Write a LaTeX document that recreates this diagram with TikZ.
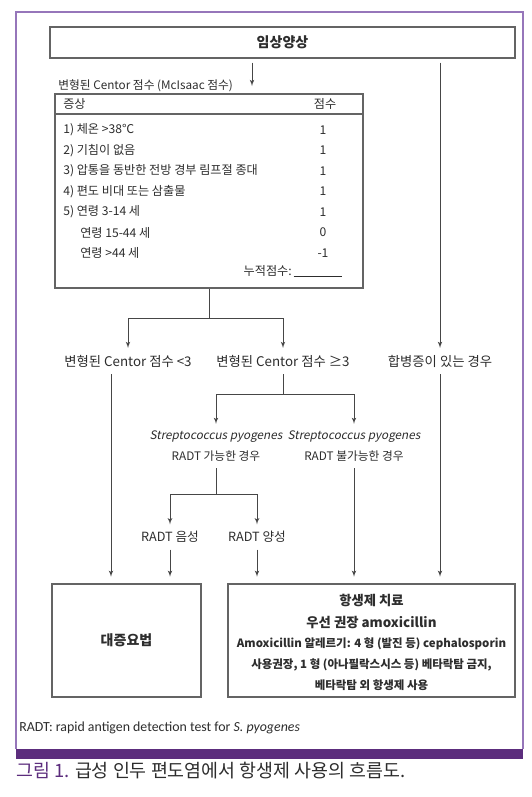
\documentclass[tikz,border=0pt]{standalone}
\usepackage{fontspec}
\usepackage{xcolor}
\setmainfont{Noto Sans CJK KR}[AutoFakeSlant=0.2]
\newfontfamily\notefont{Carlito}
\usetikzlibrary{arrows,positioning,calc}

\definecolor{frameviolet}{RGB}{150,118,186}
\definecolor{barviolet}{RGB}{92,45,125}
\definecolor{boxgray}{RGB}{100,100,100}
\definecolor{linegray}{RGB}{70,70,70}
\definecolor{txtgray}{RGB}{45,45,45}

\begin{document}
\begin{tikzpicture}[x=0.75pt, y=-0.75pt, >=latex']
        \tikzstyle{box} = [rectangle, draw=boxgray, line width=0.9pt, inner sep=0pt, text=txtgray]
        \tikzstyle{lbl} = [text=txtgray, font=\fontsize{10}{12}\selectfont, inner sep=2pt]
        \tikzstyle{cond} = [text=txtgray, font=\fontsize{8.8}{15.5}\selectfont, align=center, inner sep=2pt]
        \tikzstyle{row} = [text=txtgray, font=\fontsize{9.1}{10}\selectfont, inner sep=0pt]
        \tikzstyle{rx} = [text=txtgray, inner sep=0pt]
        \tikzstyle{line} = [draw=linegray, line width=0.6pt]
        \tikzstyle{flow} = [line, -latex', shorten <=3pt, shorten >=3pt]

        % Page and frame
        \useasboundingbox (0,0) rectangle (532,797);
        \fill[white] (0,0) rectangle (532,797);
        \draw[frameviolet, line width=1pt] (16,749) -- (16,12) -- (523,12) -- (523,749);
        \fill[barviolet] (16,749) rectangle (523,759);

        % Top box and score table
        \node [box, minimum width=348.75pt, minimum height=23.25pt, font=\bfseries\fontsize{10.5}{12}\selectfont] (clin) at (282.5,42.5) {임상양상};
        \node [row, anchor=west, font=\fontsize{8.8}{10}\selectfont] (mc) at (58,85.5) {변형된 Centor 점수 (McIsaac 점수)};
        \coordinate (mcx) at (252,90);
        \node [box, minimum width=231pt, minimum height=145.5pt] (score) at (209,191) {};
        \coordinate (hd) at (0,114);
        \draw [draw=boxgray, line width=0.9pt] (score.west |- hd) -- (score.east |- hd);
        \node [row, anchor=west] (symh) at (63,104) {증상};
        \node [row] (pth) at (325,104) {점수};
        \foreach \sx/\sym/\pt [count=\i] in {63/1) 체온 >38℃/1, 63/2) 기침이 없음/1,
            63/3) 압통을 동반한 전방 경부 림프절 종대/1, 63/4) 편도 비대 또는 삼출물/1,
            63/5) 연령 3-14 세/1, 80/연령 15-44 세/0, 80/연령 >44 세/-1}
        {
            \node [row, anchor=west] (sym\i) at (\sx,109.5+20.5*\i) {\sym};
            \node [row] (pt\i) at (323,109.5+20.5*\i) {\pt};
        }
        \node [row, anchor=east] (sum) at (342,271) {누적점수:\,\rule[-0.5pt]{36pt}{0.5pt}};

        % Branch labels
        \node [lbl] (lt3) at (128,361) {변형된 Centor 점수 <3};
        \node [lbl] (ge3) at (283,361) {변형된 Centor 점수 ≥3};
        \node [lbl] (cmp) at (440,361) {합병증이 있는 경우};
        \node [cond] (rok) at (216,446) {\textit{Streptococcus pyogenes}\\RADT 가능한 경우};
        \node [cond] (rno) at (354,446) {\textit{Streptococcus pyogenes}\\RADT 불가능한 경우};
        \node [lbl, font=\fontsize{9.5}{12}\selectfont] (neg) at (170,537) {RADT 음성};
        \node [lbl, font=\fontsize{9.5}{12}\selectfont] (pos) at (257,537) {RADT 양성};

        % Outcome boxes
        \node [box, minimum width=111.75pt, minimum height=84.75pt, font=\bfseries\fontsize{10.5}{12}\selectfont] (sym) at (126.5,640.5) {대증요법};
        \node [box, minimum width=215.25pt, minimum height=84.75pt] (abx) at (371.5,640.5) {};
        \node [rx, font=\bfseries\fontsize{10}{12}\selectfont] (abx1) at (371.5,600) {항생제 치료};
        \node [rx, font=\bfseries\fontsize{10}{12}\selectfont] (abx2) at (371.5,623) {우선 권장 amoxicillin};
        \node [rx, font=\bfseries\fontsize{8.6}{10}\selectfont] (abx3) at (371.5,644) {Amoxicillin 알레르기: 4 형 (발진 등) cephalosporin};
        \node [rx, font=\bfseries\fontsize{8.6}{10}\selectfont] (abx4) at (371.5,664.5) {사용권장, 1 형 (아나필락스시스 등) 베타락탐 금지,};
        \node [rx, font=\bfseries\fontsize{8.6}{10}\selectfont] (abx5) at (371.5,685) {베타락탐 외 항생제 사용};

        % Paths
        \path [flow] (clin.south -| mcx) -- (mcx);
        \path [flow] (clin.south -| cmp) -- (cmp);
        \path [line] (score.south) -- ++(0,30) coordinate (sj);
        \path [flow, shorten <=0pt] (sj) -| (lt3);
        \path [flow, shorten <=0pt] (sj) -| (ge3);
        \path [line, shorten <=3pt] (ge3.south) -- ++(0,24) coordinate (gj);
        \path [flow, shorten <=0pt] (gj) -| (rok);
        \path [flow, shorten <=0pt] (gj) -| (rno);
        \path [line, shorten <=3pt] (rok.south) -- ++(0,30) coordinate (rj);
        \path [flow, shorten <=0pt] (rj) -| (neg);
        \path [flow, shorten <=0pt] (rj) -| (pos);
        \path [flow, shorten >=5pt] ([xshift=-12.75pt]lt3.south) -- ([xshift=-12.75pt]lt3.south |- sym.north);
        \path [flow, shorten >=5pt] (neg) -- (neg |- sym.north);
        \path [flow, shorten >=5pt] (pos) -- (pos |- abx.north);
        \path [flow, shorten >=5pt] (rno) -- (rno |- abx.north);
        \path [flow, shorten >=5pt] (cmp) -- (cmp |- abx.north);

        % Footnote and caption
        \node [anchor=west, inner sep=0pt, text=txtgray, font=\notefont\fontsize{10.4}{12}\selectfont] (note) at (19,728) {RADT: rapid antigen detection test for \textit{S. pyogenes}};
        \node [anchor=west, inner sep=0pt, text=txtgray, font=\fontsize{13.8}{15}\selectfont] (cap) at (16,771) {\textcolor{barviolet}{그림 1.} 급성 인두 편도염에서 항생제 사용의 흐름도.};
\end{tikzpicture}
\end{document}
